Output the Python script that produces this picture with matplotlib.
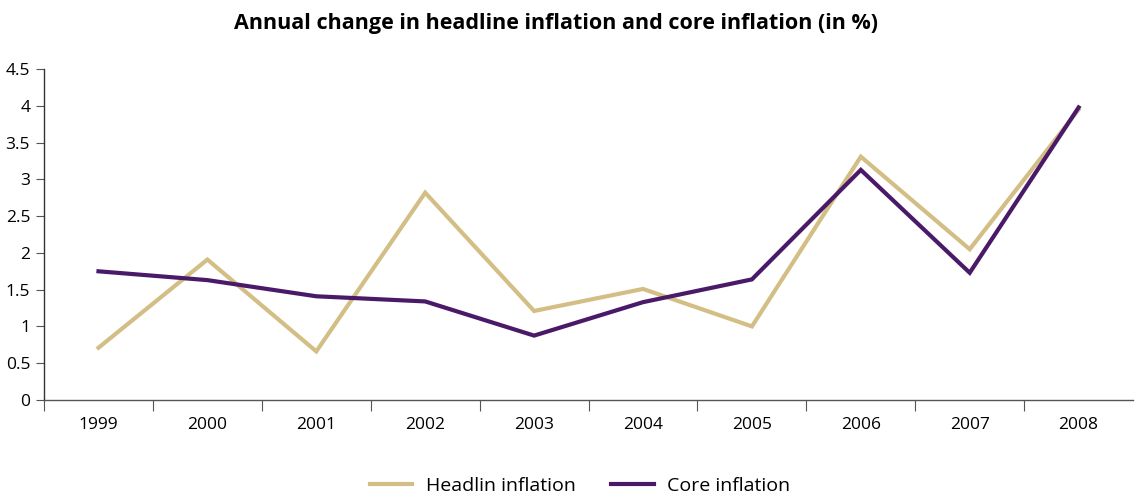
import matplotlib.pyplot as plt
import numpy as np

years = ["1999", "2000", "2001", "2002", "2003", "2004", "2005", "2006", "2007", "2008"]
headline = [0.71, 1.91, 0.66, 2.82, 1.21, 1.51, 1.00, 3.31, 2.05, 3.95]
core = [1.75, 1.63, 1.41, 1.34, 0.875, 1.33, 1.64, 3.13, 1.73, 3.98]
y_ticks = [0, 0.5, 1, 1.5, 2, 2.5, 3, 3.5, 4, 4.5]

HEAD_COLOR = "#d3bf85"
CORE_COLOR = "#4a1a68"

plt.rcParams['font.family'] = ['Open Sans', 'DejaVu Sans']

fig = plt.figure(figsize=(11.35, 4.98), dpi=100)
ax = fig.add_axes([0.0388, 0.197, 0.9595, 0.664])

x = np.arange(len(years))
ax.plot(x, headline, color=HEAD_COLOR, lw=3, label="Headlin inflation", solid_joinstyle='miter')
ax.plot(x, core, color=CORE_COLOR, lw=3, label="Core inflation", solid_joinstyle='miter')

ax.set_xlim(-0.5, len(years) - 0.5)
ax.set_ylim(0, 4.5)

# boundary ticks without labels (none at the far right), labels centred on categories
bounds = np.arange(len(years)) - 0.5
ax.set_xticks(bounds, labels=[""] * len(bounds))
ax.set_xticks(x, labels=years, minor=True)
ax.tick_params(axis='x', which='major', length=8, direction='out', color='#555555')
ax.tick_params(axis='x', which='minor', length=0, pad=12, labelsize=12.5)

ax.set_yticks(y_ticks, labels=[f"{v:g}" for v in y_ticks])
ax.tick_params(axis='y', length=6, direction='out', labelsize=12.5, pad=4, color='#555555')

for s in ['top', 'right']:
    ax.spines[s].set_visible(False)
ax.spines['left'].set_color('#333333')
ax.spines['bottom'].set_color('#555555')
ax.spines['left'].set_linewidth(1.0)
ax.spines['bottom'].set_linewidth(1.0)

fig.text(0.49, 0.952, "Annual change in headline inflation and core inflation (in %)",
         ha='center', va='center', fontsize=15.5, fontweight='bold')

fig.legend(loc='center', bbox_to_anchor=(0.511, 0.024), ncol=2, frameon=False,
           fontsize=14, handlelength=2.2, columnspacing=1.8, handletextpad=0.7)

fig.savefig("out.png", dpi=100)
